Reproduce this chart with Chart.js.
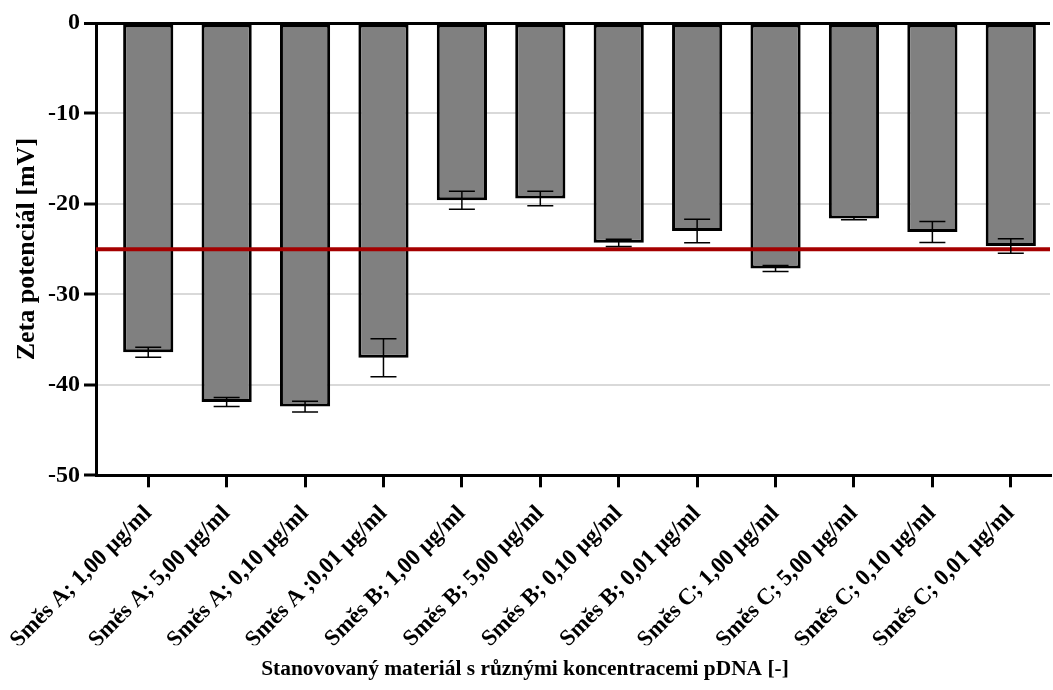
<!DOCTYPE html>
<html>
<head>
<meta charset="utf-8">
<script src="https://cdn.jsdelivr.net/npm/chart.js@4"></script>
<style>
  body { margin: 0; background: #fff; }
</style>
</head>
<body>
<canvas id="chart" width="1053" height="690"></canvas>
<script>
const categories = [
    'Směs A; 1,00 μg/ml', 'Směs A; 5,00 μg/ml', 'Směs A; 0,10 μg/ml', 'Směs A ;0,01 μg/ml',
    'Směs B; 1,00 μg/ml', 'Směs B; 5,00 μg/ml', 'Směs B; 0,10 μg/ml', 'Směs B; 0,01 μg/ml',
    'Směs C; 1,00 μg/ml', 'Směs C; 5,00 μg/ml', 'Směs C; 0,10 μg/ml', 'Směs C; 0,01 μg/ml'
];
const zetaMeans = [-36.4, -41.9, -42.4, -37.0, -19.6, -19.4, -24.3, -23.0, -27.15, -21.6, -23.1, -24.65];
const zetaErrors = [0.55, 0.5, 0.6, 2.1, 1.0, 0.8, 0.4, 1.3, 0.33, 0.15, 1.15, 0.8];
const thresholdValue = -25;
const yTicks = [0, -10, -20, -30, -40, -50];

const FONT = 'Liberation Serif, Times New Roman, serif';

// error bars + red threshold line
const overlays = {
    id: 'overlays',
    afterDatasetsDraw(chart) {
        const { ctx, chartArea, scales: { y } } = chart;
        const meta = chart.getDatasetMeta(0);

        ctx.save();
        const ty = y.getPixelForValue(thresholdValue);
        ctx.strokeStyle = '#a50000';
        ctx.lineWidth = 4;
        ctx.beginPath();
        ctx.moveTo(chartArea.left, ty);
        ctx.lineTo(chartArea.right, ty);
        ctx.stroke();

        ctx.strokeStyle = '#000';
        ctx.lineWidth = 1.5;
        const cap = 13;
        meta.data.forEach((bar, i) => {
            const top = y.getPixelForValue(zetaMeans[i] + zetaErrors[i]);
            const bot = y.getPixelForValue(zetaMeans[i] - zetaErrors[i]);
            ctx.beginPath();
            ctx.moveTo(bar.x, top);
            ctx.lineTo(bar.x, bot);
            ctx.moveTo(bar.x - cap, top);
            ctx.lineTo(bar.x + cap, top);
            ctx.moveTo(bar.x - cap, bot);
            ctx.lineTo(bar.x + cap, bot);
            ctx.stroke();
        });
        ctx.restore();
    }
};

new Chart(document.getElementById('chart'), {
    type: 'bar',
    data: {
        datasets: [{
            data: zetaMeans.map((v, i) => ({ x: i, y: v })),
            backgroundColor: '#808080',
            borderColor: '#000',
            borderWidth: 3,
            borderSkipped: false,
            barPercentage: 0.64,
            categoryPercentage: 1
        }]
    },
    options: {
        responsive: false,
        animation: false,
        layout: { padding: { top: 23, right: 3, left: 0, bottom: 0 } },
        scales: {
            x: {
                type: 'linear',
                min: -0.666,
                max: 11.5,
                offset: false,
                afterFit: s => {
                    s.height = 170;
                    s.paddingLeft = 0;
                    s.paddingRight = 0;
                },
                afterBuildTicks: s => {
                    s.ticks = categories.map((c, i) => ({ value: i }));
                },
                ticks: {
                    autoSkip: false,
                    maxRotation: 45,
                    minRotation: 45,
                    color: '#000',
                    padding: 13,
                    font: { family: FONT, size: 23, weight: 'bold' },
                    callback: v => categories[v]
                },
                grid: {
                    offset: false,
                    drawOnChartArea: false,
                    color: '#000',
                    lineWidth: 3,
                    tickLength: 12
                },
                border: { display: true, color: '#000', width: 3 }
            },
            y: {
                min: -50,
                max: 0,
                afterFit: s => { s.width = 96; },
                afterBuildTicks: s => {
                    s.ticks = yTicks.map(v => ({ value: v }));
                },
                ticks: {
                    color: '#000',
                    padding: 4,
                    font: { family: FONT, size: 24, weight: 'bold' }
                },
                grid: {
                    color: c => c.tick && c.tick.value === 0 ? '#000' : '#d9d9d9',
                    lineWidth: c => c.tick && c.tick.value === 0 ? 3 : 2,
                    tickColor: '#000',
                    tickWidth: 3,
                    tickLength: 12
                },
                border: { display: true, color: '#000', width: 3 },
                title: {
                    display: true,
                    text: 'Zeta potenciál [mV]',
                    color: '#000',
                    padding: { top: 12, bottom: 0 },
                    font: { family: FONT, size: 26, weight: 'bold' }
                }
            }
        },
        plugins: {
            legend: { display: false },
            tooltip: { enabled: false },
            title: {
                display: true,
                position: 'bottom',
                text: 'Stanovovaný materiál s různými koncentracemi pDNA [-]',
                color: '#000',
                padding: { top: 11, bottom: 8 },
                font: { family: FONT, size: 21.4, weight: 'bold' }
            }
        }
    },
    plugins: [overlays]
});
</script>
</body>
</html>
